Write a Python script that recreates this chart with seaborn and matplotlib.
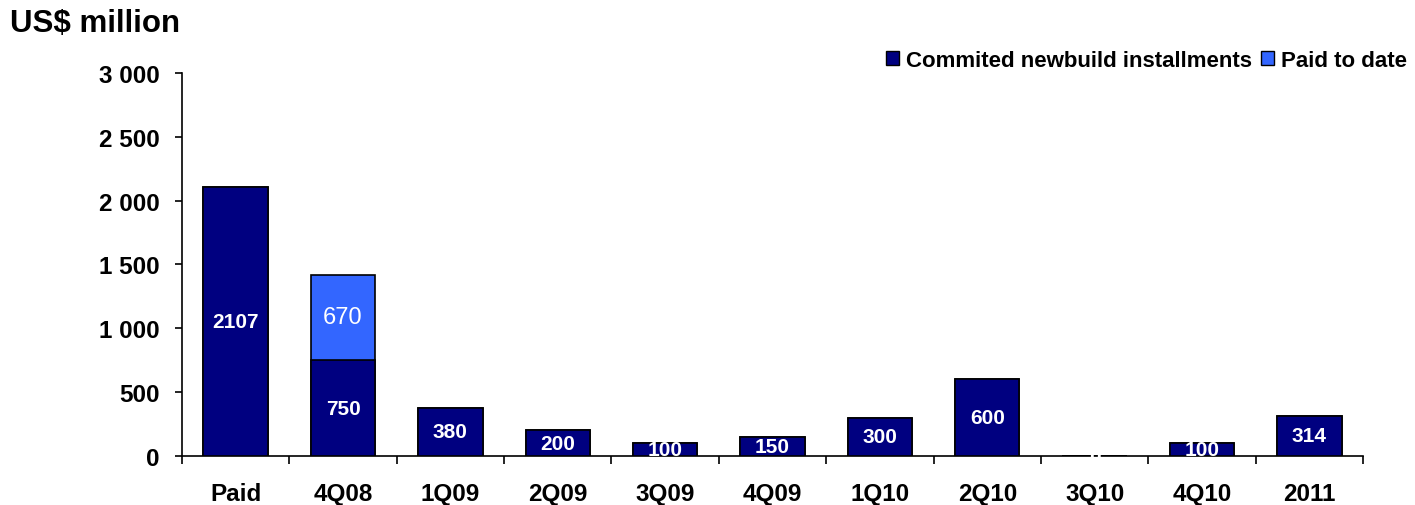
import numpy as np
import pandas as pd
import matplotlib
matplotlib.use("Agg")
import matplotlib.pyplot as plt
import seaborn as sns
from matplotlib.patches import Patch
from matplotlib.ticker import FuncFormatter

# Installment schedule (US$ million)
periods = ["Paid", "4Q08", "1Q09", "2Q09", "3Q09", "4Q09", "1Q10", "2Q10", "3Q10", "4Q10", "2011"]
committed = [2107, 750, 380, 200, 100, 150, 300, 600, 0, 100, 314]
paid_to_date = [0, 670, 0, 0, 0, 0, 0, 0, 0, 0, 0]

navy = "#000080"
blue = "#3366FF"

sns.set_theme(style="white")
plt.rcParams["font.family"] = ["Liberation Sans", "DejaVu Sans"]
plt.rcParams["font.weight"] = "bold"
plt.rcParams["text.color"] = "black"
plt.rcParams["xtick.color"] = "black"
plt.rcParams["ytick.color"] = "black"

df = pd.DataFrame({
    "period": periods,
    "committed": committed,
    "paid": paid_to_date,
})
df["total"] = df["committed"] + df["paid"]

fig = plt.figure(figsize=(14.15, 5.06), dpi=100)
ax = fig.add_axes([0.1286, 0.0968, 0.8347, 0.757])

# stacked bars: totals underneath, committed part drawn over them
sns.barplot(data=df, x="period", y="total", color=blue, width=0.6,
            edgecolor="black", linewidth=1.2, saturation=1, ax=ax, zorder=2)
sns.barplot(data=df, x="period", y="committed", color=navy, width=0.6,
            edgecolor="black", linewidth=1.2, saturation=1, ax=ax, zorder=3)

for i, (c, p) in enumerate(zip(committed, paid_to_date)):
    ax.text(i, c / 2, f"{c}", color="white", ha="center", va="center",
            fontsize=15, fontweight="bold", zorder=5)
    if p > 0:
        ax.text(i, c + p / 2, f"{p}", color="white", ha="center", va="center",
                fontsize=17, fontweight="normal", zorder=5)

ax.set_xlim(-0.5, len(periods) - 0.5)
ax.set_ylim(0, 3000)
ax.set_yticks(np.arange(0, 3001, 500))
ax.yaxis.set_major_formatter(FuncFormatter(lambda v, _: f"{int(v):,}".replace(",", " ")))

ax.set_xlabel("")
ax.set_ylabel("")

# category ticks sit between bars
ax.set_xticks(np.arange(-0.5, len(periods), 1.0), minor=True)
ax.tick_params(axis="x", which="major", bottom=True, length=0, pad=19, labelsize=17.5)
ax.tick_params(axis="x", which="minor", bottom=True, length=5.5, width=1.2,
               direction="out", color="black")
ax.tick_params(axis="y", which="major", left=True, length=5, width=1.2,
               direction="out", color="black", pad=11, labelsize=17.5)
for lab in ax.get_xticklabels() + ax.get_yticklabels():
    lab.set_fontweight("bold")
    lab.set_color("black")

for side in ["top", "right"]:
    ax.spines[side].set_visible(False)
for side in ["left", "bottom"]:
    ax.spines[side].set_color("black")
    ax.spines[side].set_linewidth(1.2)
ax.grid(False)

fig.text(0.007, 0.953, "US$ million", fontsize=22.5, fontweight="bold",
         ha="left", va="center", color="black")

handles = [Patch(facecolor=navy, edgecolor="black", label="Commited newbuild installments"),
           Patch(facecolor=blue, edgecolor="black", label="Paid to date")]
fig.legend(handles=handles, loc="center right", bbox_to_anchor=(1.005, 0.879), ncol=2,
           frameon=False, handlelength=0.6, handleheight=0.6,
           handletextpad=0.3, columnspacing=0.4, borderpad=0.2,
           prop={"weight": "bold", "size": 16})

fig.savefig("out.png", dpi=100)
